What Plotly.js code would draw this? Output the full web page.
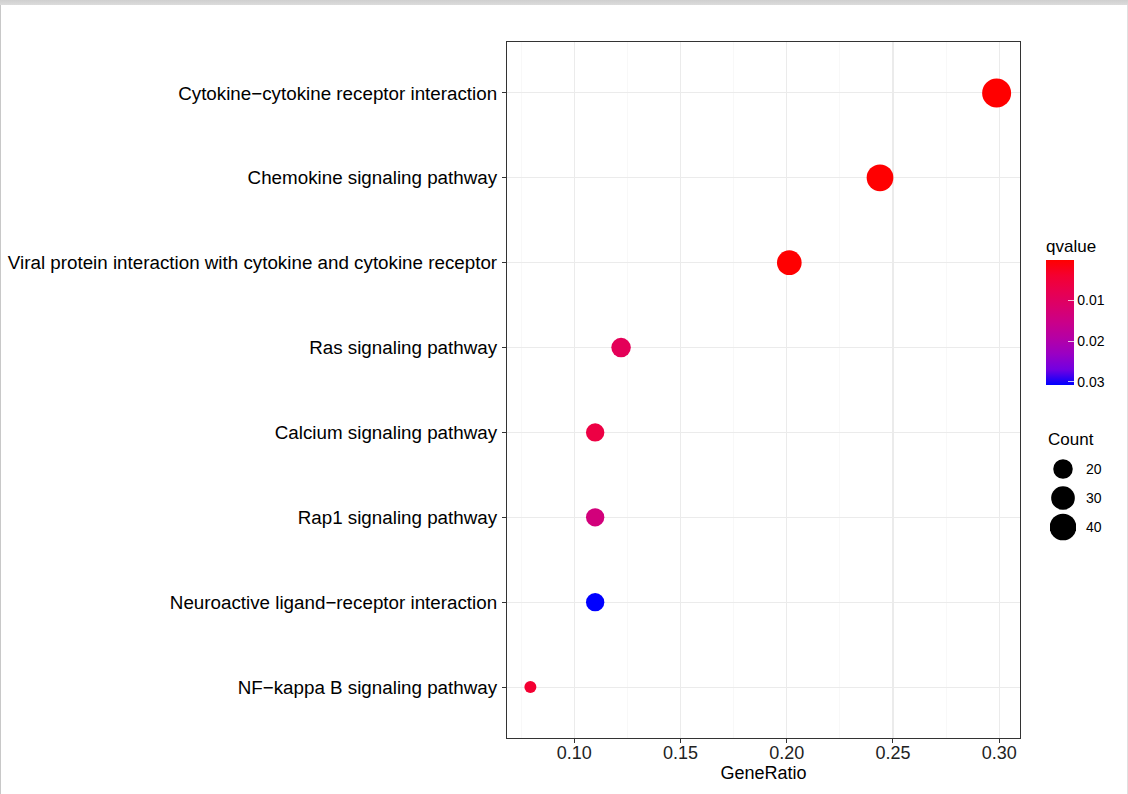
<!DOCTYPE html>
<html>
<head>
<meta charset="utf-8">
<script src="https://cdn.plot.ly/plotly-3.0.1.min.js"></script>
<style>
  html, body { margin: 0; padding: 0; background: #ffffff; }
  #wrap { position: relative; width: 1128px; height: 794px; overflow: hidden; }
  #chart { position: absolute; left: 0; top: 0; width: 1128px; height: 794px; }
  #topbar { position: absolute; left: 0; top: 0; width: 1128px; height: 5px;
            background: linear-gradient(#cfcfcf, #dcdcdc); z-index: 5; }
  #lb { position: absolute; left: 0; top: 5px; width: 1px; height: 789px; background: #c8c8c8; z-index: 5; }
  #rb { position: absolute; right: 0; top: 5px; width: 1px; height: 789px; background: #e0e0e0; z-index: 5; }
</style>
</head>
<body>
<div id="wrap">
  <div id="chart"></div>
  <div id="topbar"></div>
  <div id="lb"></div>
  <div id="rb"></div>
</div>
<script>
// ---- data (top-to-bottom order as displayed) ----
var pathways = [
  "Cytokine\u2212cytokine receptor interaction",
  "Chemokine signaling pathway",
  "Viral protein interaction with cytokine and cytokine receptor",
  "Ras signaling pathway",
  "Calcium signaling pathway",
  "Rap1 signaling pathway",
  "Neuroactive ligand\u2212receptor interaction",
  "NF\u2212kappa B signaling pathway"
];
var geneRatio = [0.2988, 0.2439, 0.2012, 0.1220, 0.1098, 0.1098, 0.1098, 0.0793];
var counts    = [49, 40, 33, 20, 18, 18, 18, 13];
var qvalues   = [0.000002, 0.00005, 0.0001, 0.0088, 0.0062, 0.0135, 0.0308, 0.0040];

var xTickVals = [0.10, 0.15, 0.20, 0.25, 0.30];
var xTickText = ["0.10", "0.15", "0.20", "0.25", "0.30"];
var qTickVals = [0.01, 0.02, 0.03];
var qTickText = ["0.01", "0.02", "0.03"];
var sizeLegendCounts = [20, 30, 40];

// ---- styling helpers ----
var cMin = Math.min.apply(null, counts), cMax = Math.max.apply(null, counts);
function sizeOf(c) { return 12 + 17 * Math.sqrt((c - cMin) / (cMax - cMin)); }
var qMin = Math.min.apply(null, qvalues), qMax = Math.max.apply(null, qvalues);

// colour scale on -q so that low q (red) sits at the top of the bar
var colorscale = [
  [0.000, "#0000FF"],
  [0.125, "#7300E1"],
  [0.250, "#9A00C3"],
  [0.375, "#B500A5"],
  [0.500, "#CA0089"],
  [0.625, "#DA006C"],
  [0.750, "#E80050"],
  [0.875, "#F40031"],
  [1.000, "#FF0000"]
];

var FONT = "Liberation Sans, Arial, sans-serif";
var W = 1128, H = 794;
var mL = 507, mR = 0, mT = 42, mB = 56;
var paperW = W - mL - mR, paperH = H - mT - mB;
var plotRight = 1020;
var mainDomainX = [0, (plotRight - mL) / paperW];

function px2x(p) { return (p - mL) / paperW; }
function py2y(p) { return (H - mB - p) / paperH; }

var xRange = [0.0683, 0.3098];

var mainTrace = {
  type: "scatter",
  mode: "markers",
  x: geneRatio,
  y: pathways,
  xaxis: "x", yaxis: "y",
  showlegend: false,
  hoverinfo: "x+y",
  marker: {
    size: counts.map(sizeOf),
    color: qvalues.map(function (q) { return -q; }),
    cmin: -qMax, cmax: -qMin,
    colorscale: colorscale,
    line: { width: 0 },
    opacity: 1,
    showscale: true,
    colorbar: {
      x: px2x(1046), xanchor: "left", xpad: 0,
      y: py2y(236), yanchor: "top", ypad: 0,
      len: 149, lenmode: "pixels",
      thickness: 28, thicknessmode: "pixels",
      outlinewidth: 0,
      tickmode: "array",
      tickvals: qTickVals.map(function (v) { return -v; }),
      ticktext: qTickText,
      ticks: "inside", ticklen: 6, tickwidth: 1.2, tickcolor: "rgba(255,255,255,0.75)",
      ticklabelstandoff: 4,
      tickfont: { family: FONT, size: 14, color: "#000" },
      title: { text: "qvalue", side: "top", font: { family: FONT, size: 17, color: "#000" } }
    }
  }
};

var sizeLegendTrace = {
  type: "scatter",
  mode: "markers",
  x: sizeLegendCounts.map(function () { return 0; }),
  y: sizeLegendCounts.map(String),
  xaxis: "x2", yaxis: "y2",
  showlegend: false,
  hoverinfo: "skip",
  marker: { size: sizeLegendCounts.map(sizeOf), color: "#000000", opacity: 1, line: { width: 0 } }
};

var layout = {
  width: W, height: H,
  margin: { l: mL, r: mR, t: mT, b: mB, pad: 0 },
  paper_bgcolor: "rgba(0,0,0,0)",
  plot_bgcolor: "#FFFFFF",
  font: { family: FONT, color: "#000" },
  showlegend: false,
  xaxis: {
    domain: mainDomainX,
    range: xRange,
    tickmode: "array", tickvals: xTickVals, ticktext: xTickText,
    tickfont: { family: FONT, size: 18, color: "#222" },
    ticks: "outside", ticklen: 4, tickwidth: 1, tickcolor: "#333",
    ticklabelstandoff: -6,
    showgrid: true, gridcolor: "#EBEBEB", gridwidth: 1.1,
    minor: { tickmode: "array", tickvals: [0.075, 0.125, 0.175, 0.225, 0.275], showgrid: true, gridcolor: "#F4F4F4", gridwidth: 0.6, ticks: "" },
    zeroline: false,
    showline: true, linecolor: "#333", linewidth: 1.1, mirror: true,
    title: { text: "GeneRatio", font: { family: FONT, size: 18, color: "#000" }, standoff: 2 }
  },
  yaxis: {
    type: "category",
    categoryorder: "array",
    categoryarray: pathways.slice().reverse(),
    range: [-0.6, pathways.length - 1 + 0.6],
    tickfont: { family: FONT, size: 18.8, color: "#000" },
    ticks: "outside", ticklen: 4, tickwidth: 1, tickcolor: "#333",
    ticklabelstandoff: 1,
    showgrid: true, gridcolor: "#EBEBEB", gridwidth: 1.1,
    zeroline: false,
    showline: true, linecolor: "#333", linewidth: 1.1, mirror: true,
    anchor: "x"
  },
  xaxis2: {
    domain: [px2x(1050), px2x(1076)],
    range: [-1, 1],
    anchor: "y2",
    visible: false, fixedrange: true
  },
  yaxis2: {
    domain: [py2y(541.5), py2y(454.5)],
    type: "category",
    categoryorder: "array",
    categoryarray: sizeLegendCounts.map(String).reverse(),
    range: [-0.5, sizeLegendCounts.length - 0.5],
    anchor: "x2", side: "right",
    showgrid: false, zeroline: false, showline: false, ticks: "",
    ticklabelstandoff: 9,
    tickfont: { family: FONT, size: 14, color: "#000" },
    fixedrange: true
  },
  annotations: [
    {
      text: "Count", xref: "paper", yref: "paper",
      x: px2x(1046), y: py2y(439), xanchor: "left", yanchor: "middle",
      showarrow: false, font: { family: FONT, size: 17, color: "#000" }
    }
  ]
};

Plotly.newPlot("chart", [mainTrace, sizeLegendTrace], layout, { displayModeBar: false, staticPlot: true });
</script>
</body>
</html>
